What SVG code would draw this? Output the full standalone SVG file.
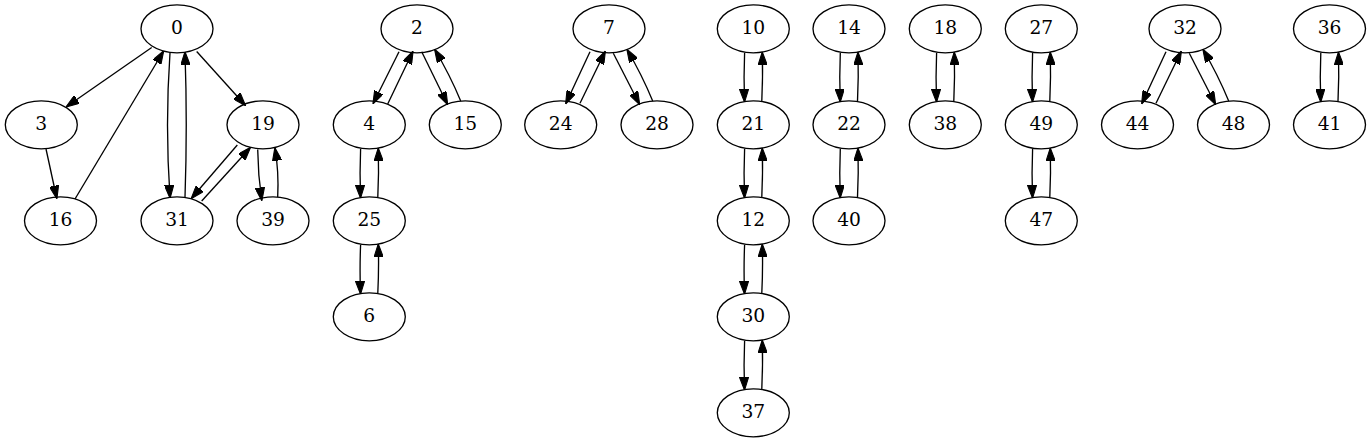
<svg xmlns="http://www.w3.org/2000/svg" width="1371" height="443" viewBox="0 0 1371 443">
<style>
ellipse{fill:none;stroke:#000;stroke-width:1.33}
text{font-family:"DejaVu Serif","Liberation Serif",serif;font-size:18.67px;text-anchor:middle;fill:#000}
.e path{fill:none;stroke:#000;stroke-width:1.33;marker-end:url(#ah)}
</style>
<defs>
<marker id="ah" viewBox="0 0 10 7" refX="9.3" refY="3.5" markerWidth="13.33" markerHeight="9.33" markerUnits="userSpaceOnUse" orient="auto">
<path d="M0,0 L10,3.5 L0,7 z" fill="#000" stroke="#000" stroke-width="0.8"/>
</marker>
</defs>
<rect width="1371" height="443" fill="#fff"/>
<g class="e" id="edges">
<path d="M151.7,47.5 L66.7,106.5"/>
<path d="M46,149 L56.7,198"/>
<path d="M75,199 L163.3,51.5"/>
<path d="M170,52.8 Q165,125 170,197.5"/>
<path d="M185,197.5 Q187.5,125 185,52.5"/>
<path d="M196.7,51.5 L245,105"/>
<path d="M237.3,145 L191.7,198"/>
<path d="M201.7,201 L250,148"/>
<path d="M257.7,149.5 Q258,175 261.7,200"/>
<path d="M277.7,197 Q279,172 275,148.5"/>
<path d="M399,51.7 L373.3,103.3"/>
<path d="M387.7,104 L412.7,51.7"/>
<path d="M421.7,51.7 L447.3,104"/>
<path d="M460.7,101 Q450,75 435,50"/>
<path d="M360.6,148.8 Q359.6,173 360.5,197.3"/>
<path d="M377.8,197.3 Q379,173 378.3,148.8"/>
<path d="M360.6,244.8 Q359.6,269 360.5,293.3"/>
<path d="M377.8,293.3 Q379,269 378.3,244.8"/>
<path d="M590,51.7 L566,103.3"/>
<path d="M580,103.3 L605,51.7"/>
<path d="M613.3,53.3 L639.3,104"/>
<path d="M652.7,101 Q642,75 627.3,50"/>
<path d="M744.6,52.8 Q743.6,77 744.5,101.3"/>
<path d="M761.8,101.3 Q763,77 762.3,52.8"/>
<path d="M744.6,148.8 Q743.6,173 744.5,197.3"/>
<path d="M761.8,197.3 Q763,173 762.3,148.8"/>
<path d="M744.6,244.8 Q743.6,269 744.5,293.3"/>
<path d="M761.8,293.3 Q763,269 762.3,244.8"/>
<path d="M744.6,340.8 Q743.6,365 744.5,389.3"/>
<path d="M761.8,389.3 Q763,365 762.3,340.8"/>
<path d="M840.3,52.8 Q839.3,77 840.2,101.3"/>
<path d="M857.5,101.3 Q858.7,77 858,52.8"/>
<path d="M840.3,148.8 Q839.3,173 840.2,197.3"/>
<path d="M857.5,197.3 Q858.7,173 858,148.8"/>
<path d="M936.6,52.8 Q935.6,77 936.5,101.3"/>
<path d="M953.8,101.3 Q955,77 954.3,52.8"/>
<path d="M1032.6,52.8 Q1031.6,77 1032.5,101.3"/>
<path d="M1049.8,101.3 Q1051,77 1050.3,52.8"/>
<path d="M1032.6,148.8 Q1031.6,173 1032.5,197.3"/>
<path d="M1049.8,197.3 Q1051,173 1050.3,148.8"/>
<path d="M1166,51.7 L1142,103.3"/>
<path d="M1156,103.3 L1181,51.7"/>
<path d="M1189.3,53.3 L1215.3,104"/>
<path d="M1228.7,101 Q1218,75 1203.3,50"/>
<path d="M1320.8,52.8 Q1319.8,77 1320.7,101.3"/>
<path d="M1338,101.3 Q1339.2,77 1338.5,52.8"/>
</g>
<g id="n0"><ellipse cx="177" cy="28.8" rx="36" ry="24"/><text x="177" y="34.3">0</text></g>
<g id="n3"><ellipse cx="41.3" cy="124.8" rx="36" ry="24"/><text x="41.3" y="130.3">3</text></g>
<g id="n16"><ellipse cx="60.5" cy="220.8" rx="36" ry="24"/><text x="60.5" y="226.3">16</text></g>
<g id="n31"><ellipse cx="177" cy="220.8" rx="36" ry="24"/><text x="177" y="226.3">31</text></g>
<g id="n19"><ellipse cx="263" cy="124.8" rx="36" ry="24"/><text x="263" y="130.3">19</text></g>
<g id="n39"><ellipse cx="273" cy="220.8" rx="36" ry="24"/><text x="273" y="226.3">39</text></g>
<g id="n2"><ellipse cx="417" cy="28.8" rx="36" ry="24"/><text x="417" y="34.3">2</text></g>
<g id="n4"><ellipse cx="369.3" cy="124.8" rx="36" ry="24"/><text x="369.3" y="130.3">4</text></g>
<g id="n15"><ellipse cx="465.3" cy="124.8" rx="36" ry="24"/><text x="465.3" y="130.3">15</text></g>
<g id="n25"><ellipse cx="369.3" cy="220.8" rx="36" ry="24"/><text x="369.3" y="226.3">25</text></g>
<g id="n6"><ellipse cx="369.3" cy="316.8" rx="36" ry="24"/><text x="369.3" y="322.3">6</text></g>
<g id="n7"><ellipse cx="609" cy="28.8" rx="36" ry="24"/><text x="609" y="34.3">7</text></g>
<g id="n24"><ellipse cx="560.7" cy="124.8" rx="36" ry="24"/><text x="560.7" y="130.3">24</text></g>
<g id="n28"><ellipse cx="657" cy="124.8" rx="36" ry="24"/><text x="657" y="130.3">28</text></g>
<g id="n10"><ellipse cx="753.3" cy="28.8" rx="36" ry="24"/><text x="753.3" y="34.3">10</text></g>
<g id="n21"><ellipse cx="753.3" cy="124.8" rx="36" ry="24"/><text x="753.3" y="130.3">21</text></g>
<g id="n12"><ellipse cx="753.3" cy="220.8" rx="36" ry="24"/><text x="753.3" y="226.3">12</text></g>
<g id="n30"><ellipse cx="753.3" cy="316.8" rx="36" ry="24"/><text x="753.3" y="322.3">30</text></g>
<g id="n37"><ellipse cx="753.3" cy="412.8" rx="36" ry="24"/><text x="753.3" y="418.3">37</text></g>
<g id="n14"><ellipse cx="849" cy="28.8" rx="36" ry="24"/><text x="849" y="34.3">14</text></g>
<g id="n22"><ellipse cx="849" cy="124.8" rx="36" ry="24"/><text x="849" y="130.3">22</text></g>
<g id="n40"><ellipse cx="849" cy="220.8" rx="36" ry="24"/><text x="849" y="226.3">40</text></g>
<g id="n18"><ellipse cx="945.3" cy="28.8" rx="36" ry="24"/><text x="945.3" y="34.3">18</text></g>
<g id="n38"><ellipse cx="945.3" cy="124.8" rx="36" ry="24"/><text x="945.3" y="130.3">38</text></g>
<g id="n27"><ellipse cx="1041.3" cy="28.8" rx="36" ry="24"/><text x="1041.3" y="34.3">27</text></g>
<g id="n49"><ellipse cx="1041.3" cy="124.8" rx="36" ry="24"/><text x="1041.3" y="130.3">49</text></g>
<g id="n47"><ellipse cx="1041.3" cy="220.8" rx="36" ry="24"/><text x="1041.3" y="226.3">47</text></g>
<g id="n32"><ellipse cx="1185" cy="28.8" rx="36" ry="24"/><text x="1185" y="34.3">32</text></g>
<g id="n44"><ellipse cx="1137.5" cy="124.8" rx="36" ry="24"/><text x="1137.5" y="130.3">44</text></g>
<g id="n48"><ellipse cx="1233.5" cy="124.8" rx="36" ry="24"/><text x="1233.5" y="130.3">48</text></g>
<g id="n36"><ellipse cx="1329.5" cy="28.8" rx="36" ry="24"/><text x="1329.5" y="34.3">36</text></g>
<g id="n41"><ellipse cx="1329.5" cy="124.8" rx="36" ry="24"/><text x="1329.5" y="130.3">41</text></g>
</svg>
